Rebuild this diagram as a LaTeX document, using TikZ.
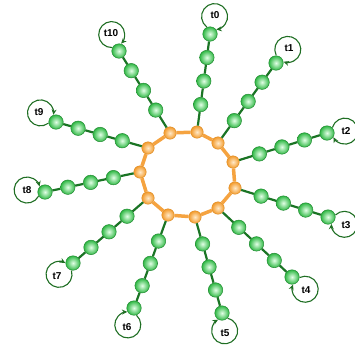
\documentclass[tikz,border=0pt]{standalone}
\usepackage{fontspec}
\setsansfont{Liberation Sans}
\usetikzlibrary{calc,arrows.meta}
\definecolor{gdark}{HTML}{1A7424}
\definecolor{gmid}{HTML}{2FB844}
\definecolor{glight}{HTML}{E2FFE6}
\definecolor{odark}{HTML}{F39A2A}
\definecolor{olight}{HTML}{FFE9C8}
\definecolor{oring}{HTML}{F5A340}
\definecolor{loopc}{HTML}{1F6E23}
\tikzset{
 gbead/.style={circle, minimum size=14.5pt, inner sep=0pt, draw=gmid!75!black, line width=0.5pt, inner color=glight, outer color=gmid},
 obead/.style={circle, minimum size=12.5pt, inner sep=0pt, draw=odark!90!black, line width=0.4pt, inner color=olight, outer color=odark},
 chainline/.style={gdark, line width=2.2pt},
 ringline/.style={oring, line width=3.5pt},
 looparc/.style={loopc, line width=1.1pt, -{Stealth[length=5.5pt,width=5pt]}},
 tlabel/.style={font=\sffamily\bfseries\fontsize{10}{11}\selectfont, inner sep=0pt},
}
\begin{document}
\begin{tikzpicture}[x=1pt,y=-1pt]
\useasboundingbox (0,0) rectangle (355,349);
\foreach \k/\ox/\oy/\ex/\ey/\lx/\ly/\t in {
 0/197/132/210/34/215/15/t0,
 1/218/143/276/63/289/48/t1,
 2/233/162/327/133/346/131/t2,
 3/235/188/328/217/346/225/t3,
 4/218/208/292/277/306/290/t4,
 5/195/217/222/313/225/333/t5,
 6/168/215/134/308/127/327/t6,
 7/148/198/73/263/57/276/t7,
 8/140/172/45/192/27/190/t8,
 9/148/148/56/122/39/112/t9,
 10/170/133/119/51/111/33/t10}{
 \node[obead] (o\k) at (\ox,\oy) {};
 \coordinate (e\k) at (\ex,\ey);
 \node[gbead] (gA\k) at (e\k) {};
 \node[gbead] (gB\k) at ($(e\k)!0.24!(o\k)$) {};
 \node[gbead] (gC\k) at ($(e\k)!0.48!(o\k)$) {};
 \node[gbead] (gD\k) at ($(e\k)!0.72!(o\k)$) {};
 \node[tlabel] (l\k) at (\lx,\ly) {\t};
 \coordinate (c\k) at ($(gA\k)!18pt!(l\k)$);
 \draw[chainline] (o\k) -- (gD\k) -- (gC\k) -- (gB\k) -- (gA\k);
 \draw[looparc] let \p1=($(gA\k)-(c\k)$), \n1={atan2(\y1,\x1)} in
   ($(c\k)+(\n1-22:13pt)$) arc[start angle=\n1-22, end angle=\n1+22-360, radius=13pt];
}
\draw[ringline] (o0) -- (o1) -- (o2) -- (o3) -- (o4) -- (o5) -- (o6) -- (o7) -- (o8) -- (o9) -- (o10) -- (o0);
\end{tikzpicture}
\end{document}
